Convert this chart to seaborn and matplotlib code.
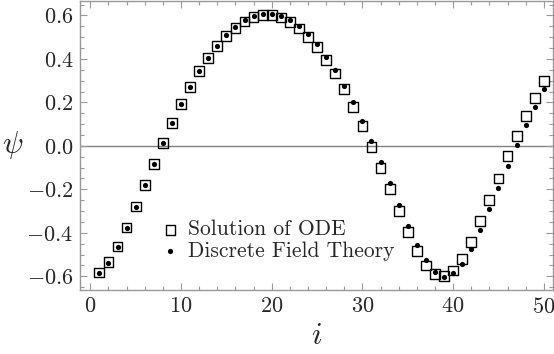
import numpy as np
import pandas as pd
import matplotlib
matplotlib.use('Agg')
import matplotlib.pyplot as plt
from matplotlib.ticker import MultipleLocator, FuncFormatter
import seaborn as sns

# lattice index
site = list(range(1, 51))

# continuum solution (open squares)
ode_psi = [-0.583, -0.535, -0.463, -0.376, -0.279, -0.180, -0.082, 0.013, 0.106, 0.192,
           0.272, 0.344, 0.405, 0.458, 0.505, 0.543, 0.572, 0.592, 0.602, 0.601,
           0.591, 0.570, 0.540, 0.500, 0.455, 0.397, 0.333, 0.260, 0.178, 0.091,
           -0.005, -0.101, -0.200, -0.300, -0.396, -0.482, -0.551, -0.590, -0.600, -0.574,
           -0.519, -0.441, -0.347, -0.249, -0.150, -0.047, 0.046, 0.138, 0.220, 0.298]

# discrete field theory (dots)
dft_psi = [-0.583, -0.537, -0.465, -0.378, -0.281, -0.182, -0.084, 0.011, 0.105, 0.191,
           0.271, 0.345, 0.406, 0.461, 0.509, 0.548, 0.577, 0.597, 0.606, 0.606,
           0.598, 0.579, 0.551, 0.514, 0.467, 0.410, 0.348, 0.277, 0.200, 0.114,
           0.023, -0.074, -0.172, -0.270, -0.367, -0.456, -0.526, -0.580, -0.602, -0.586,
           -0.542, -0.473, -0.387, -0.292, -0.193, -0.093, 0.002, 0.094, 0.181, 0.260]

df = pd.DataFrame({'i': site, 'ode': ode_psi, 'dft': dft_psi})

sns.set_style('ticks')
plt.rcParams['font.family'] = ['cmr10', 'DejaVu Serif']
plt.rcParams['mathtext.fontset'] = 'cm'
plt.rcParams['axes.unicode_minus'] = True

fig, ax = plt.subplots(figsize=(5.54, 3.54), dpi=100)
fig.subplots_adjust(left=0.145, right=0.998, bottom=0.181, top=0.998)

ax.axhline(0, color='#808080', lw=1.0, zorder=0)
sns.scatterplot(data=df, x='i', y='ode', marker='s', s=50, facecolors='none',
                edgecolor='black', linewidth=1.0, label='Solution of ODE', ax=ax, zorder=2)
sns.scatterplot(data=df, x='i', y='dft', marker='o', s=14, color='black',
                edgecolor='black', linewidth=0, label='Discrete Field Theory', ax=ax, zorder=3)

ax.set_xlim(-1.1, 51.0)
ax.set_ylim(-0.663, 0.668)
ax.xaxis.set_major_locator(MultipleLocator(10))
ax.xaxis.set_minor_locator(MultipleLocator(2))
ax.yaxis.set_major_locator(MultipleLocator(0.2))
ax.yaxis.set_minor_locator(MultipleLocator(0.05))
ax.xaxis.set_major_formatter(FuncFormatter(lambda v, p: f'${v:.0f}$'))
ax.yaxis.set_major_formatter(FuncFormatter(lambda v, p: f'${v:.1f}$'))

ax.tick_params(which='both', direction='in', top=True, right=True, color='#999999',
               labelsize=16, width=0.8)
ax.tick_params(which='major', length=5, pad=5)
ax.tick_params(which='minor', length=3)
for sp in ax.spines.values():
    sp.set_color('#999999')
    sp.set_linewidth(1.0)

ax.set_xlabel('$i$', fontsize=22, labelpad=4)
ax.set_ylabel(r'$\psi$', fontsize=22, rotation=0, labelpad=10, va='center')

ax.legend(loc='lower left', bbox_to_anchor=(0.168, 0.10), frameon=False, fontsize=15.5,
          handlelength=1.0, handletextpad=0.3, labelspacing=0.1, borderpad=0,
          borderaxespad=0)

fig.savefig('out.png', dpi=100)
